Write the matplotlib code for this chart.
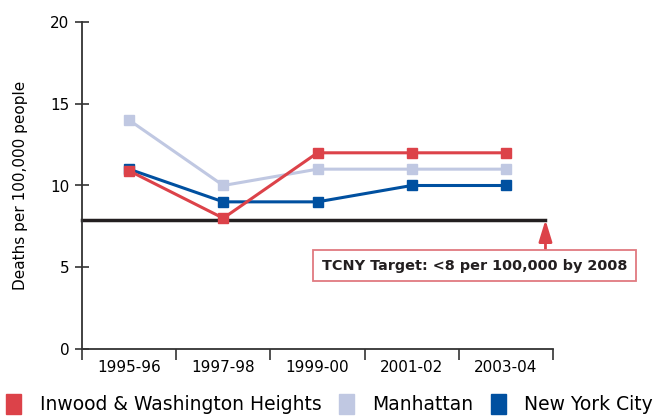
import matplotlib.pyplot as plt
from matplotlib.patches import Patch

# ============================================================================
# Data
# ============================================================================

periods = ["1995-96", "1997-98", "1999-00", "2001-02", "2003-04"]
inwood = [10.9, 8, 12, 12, 12]
manhattan = [14, 10, 11, 11, 11]
nyc = [11, 9, 9, 10, 10]
series_names = ["Inwood & Washington Heights", "Manhattan", "New York City"]
series_colors = ["#dc4249", "#c0c8e2", "#0050a0"]

target_value = 7.9
target_end = 4.92
target_label = "TCNY Target: <8 per 100,000 by 2008"

# ============================================================================
# Plot
# ============================================================================

plt.rcParams["font.family"] = "DejaVu Sans"

fig = plt.figure(figsize=(6.63, 4.19), dpi=100)
ax = fig.add_axes([82 / 663, 1 - 349 / 419, (553 - 82) / 663, (349 - 22) / 419])

xpos = [i + 0.5 for i in range(len(periods))]

# draw Manhattan first so the others sit on top
order = [1, 2, 0]
all_values = [inwood, manhattan, nyc]
for k in order:
    ax.plot(xpos, all_values[k], color=series_colors[k], lw=2.2,
            marker="s", markersize=7, clip_on=False, zorder=3)

# target line + callout
ax.plot([0, target_end], [target_value, target_value], color="#231f20",
        lw=2.5, zorder=2, clip_on=False)
ax.annotate("", xy=(target_end, target_value), xytext=(target_end, 6.1),
            arrowprops=dict(arrowstyle="-|>,head_width=0.4,head_length=1.3",
                            color="#dc4249", lw=2, shrinkA=0, shrinkB=0),
            zorder=4)
ax.text(4.17, 5.1, target_label, ha="center", va="center",
        fontsize=10.4, fontweight="bold", color="#231f20",
        bbox=dict(boxstyle="square,pad=0.6", fc="white",
                  ec="#e07a80", lw=1.3), zorder=5)

ax.set_xlim(0, 5)
ax.set_ylim(0, 20)
ax.set_xticks(range(6))
ax.set_xticklabels([])
ax.set_xticks(xpos, minor=True)
ax.set_xticklabels(periods, minor=True, fontsize=11)
ax.tick_params(axis="x", which="minor", length=0, pad=8)
ax.tick_params(axis="x", which="major", direction="out", length=8,
               width=1.2, color="#333333")
ax.set_yticks([0, 5, 10, 15, 20])
ax.tick_params(axis="y", direction="inout", length=10, width=1.2,
               color="#333333", labelsize=11, pad=4)
for side in ["top", "right"]:
    ax.spines[side].set_visible(False)
for side in ["left", "bottom"]:
    ax.spines[side].set_color("#333333")
    ax.spines[side].set_linewidth(1.3)
ax.set_ylabel("Deaths per 100,000 people", fontsize=11, labelpad=16)

handles = [Patch(color=c) for c in series_colors]
fig.legend(handles, series_names, loc="lower left",
           bbox_to_anchor=(0.004, 0.002), ncol=3, frameon=False,
           fontsize=13.5, handlelength=0.8, handleheight=1.25,
           handletextpad=1.0, columnspacing=0.9, borderpad=0.2,
           borderaxespad=0.0)

fig.savefig("out.png", dpi=100)
